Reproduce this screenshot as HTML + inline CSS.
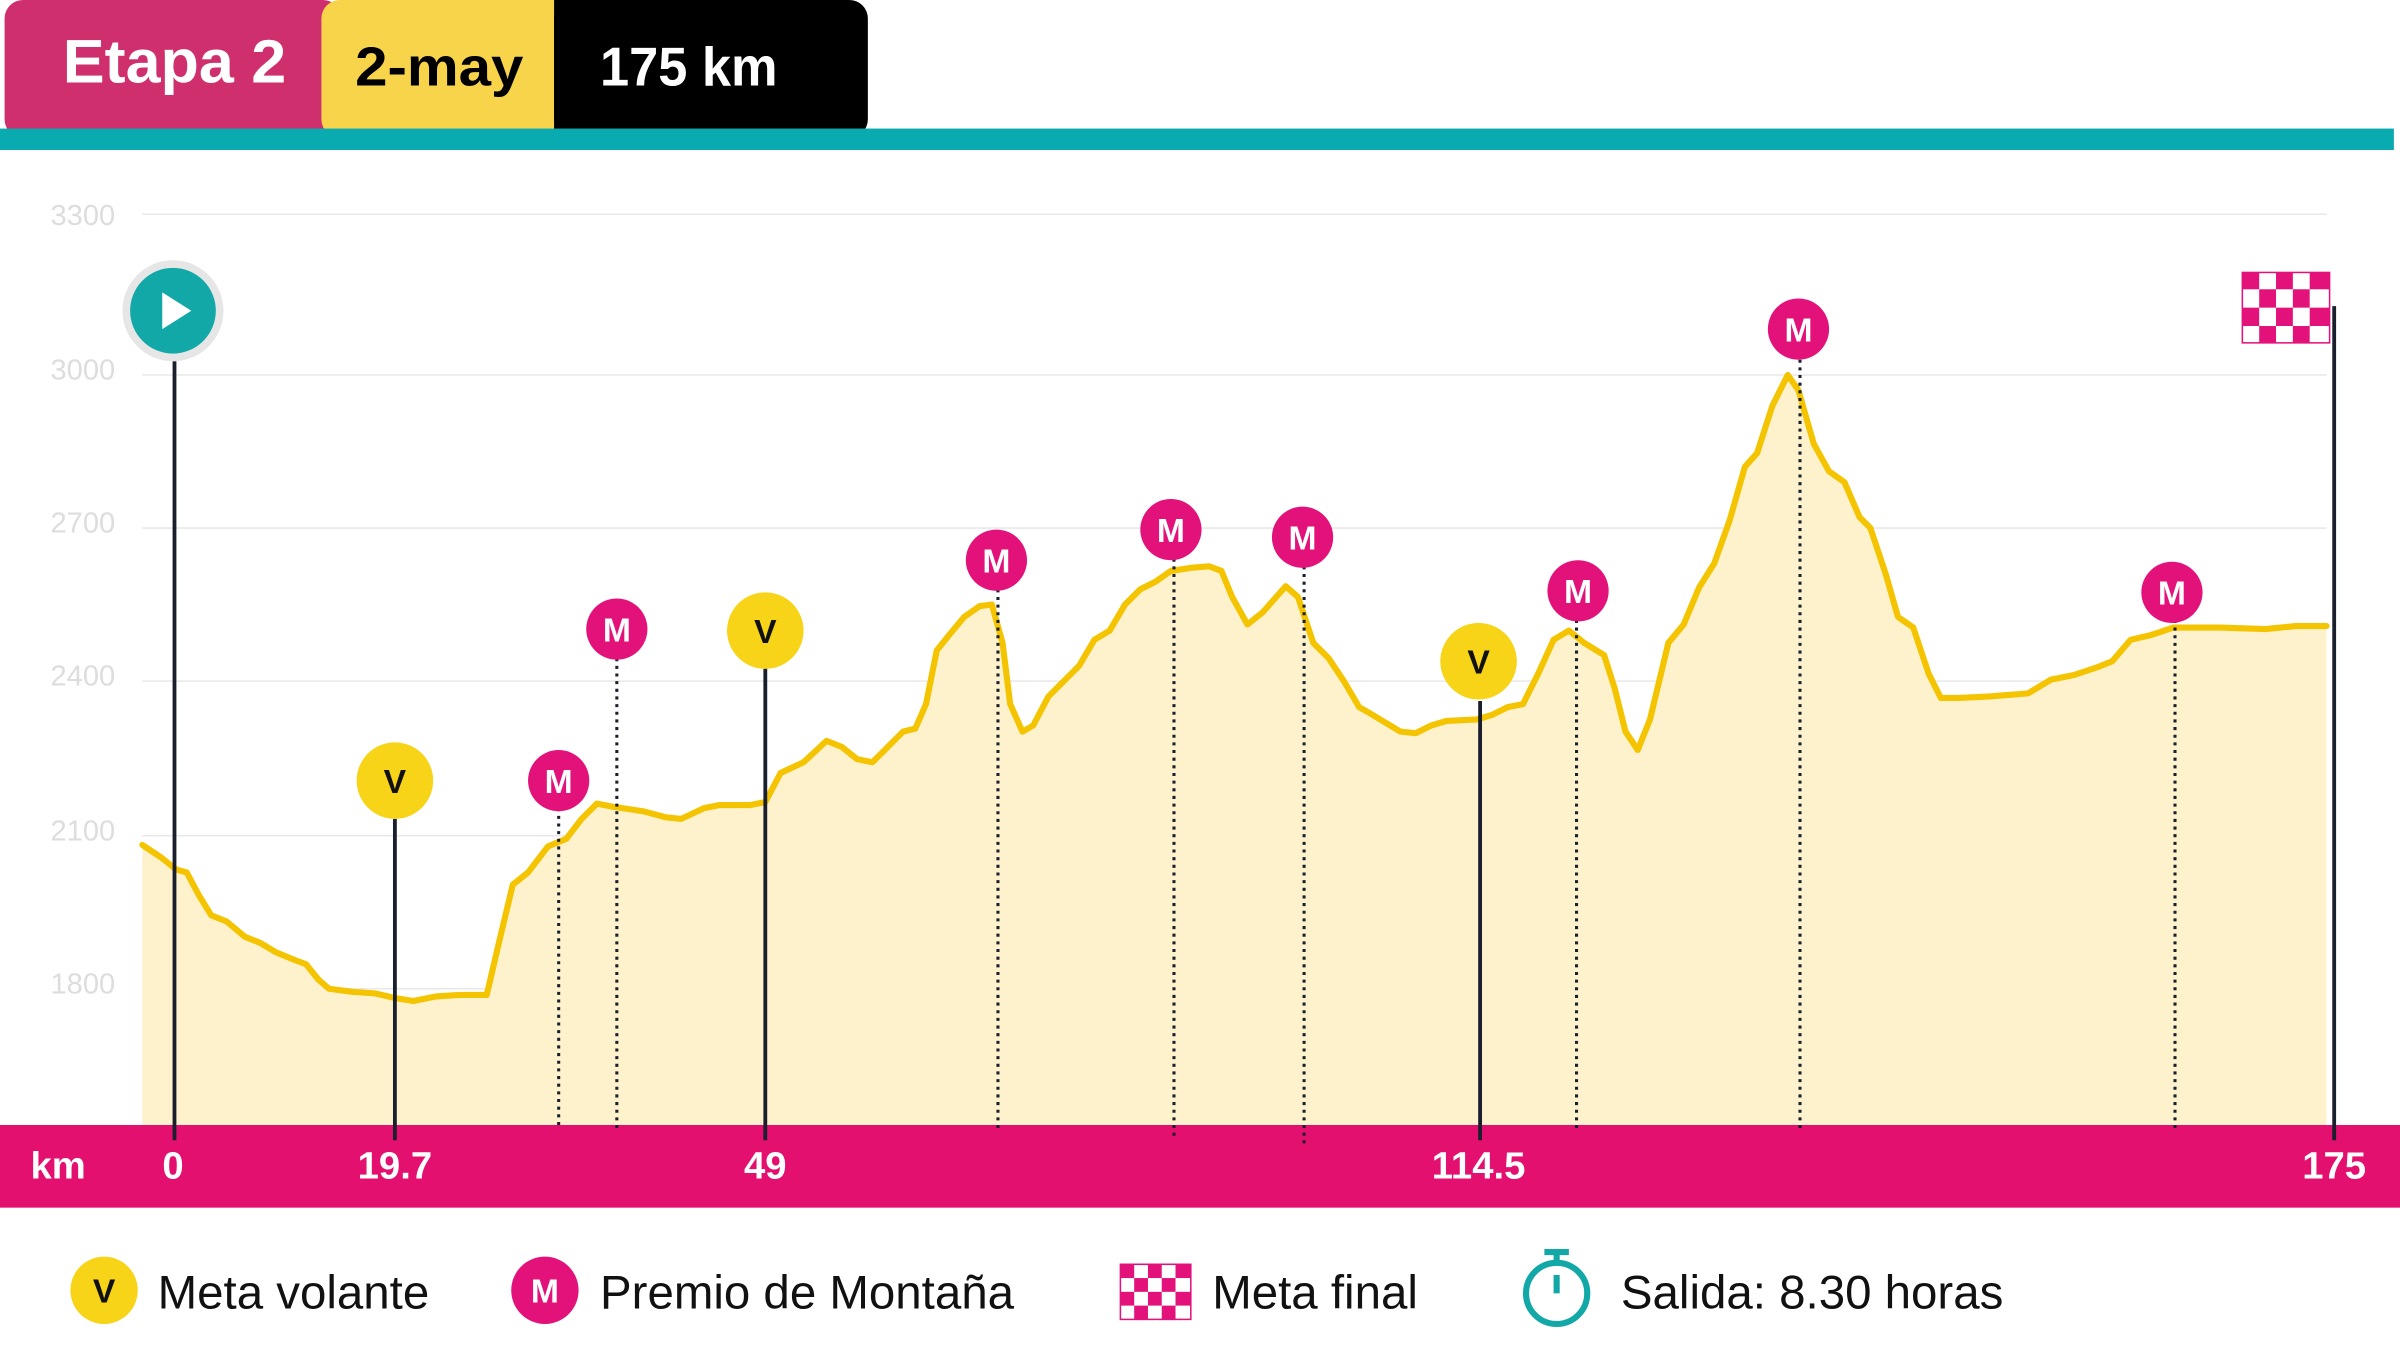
<!DOCTYPE html>
<html><head><meta charset="utf-8"><style>
html,body{margin:0;padding:0;background:#fff;}
svg{display:block;}
text{font-family:"Liberation Sans",sans-serif;}
</style></head><body>
<svg width="2400" height="1350" viewBox="0 0 1568 882" preserveAspectRatio="none" xmlns="http://www.w3.org/2000/svg">
<rect width="1568" height="882" fill="#fff"/>
<!-- header -->
<rect x="3" y="0" width="220" height="90" rx="12" fill="#cf2f6d"/>
<rect x="210" y="0" width="165" height="90" rx="12" fill="#f7d44a"/>
<rect x="362" y="0" width="205" height="90" rx="12" fill="#000"/>
<rect x="362" y="0" width="20" height="90" fill="#000"/>
<text x="114" y="54" text-anchor="middle" font-size="40" font-weight="bold" fill="#fff" textLength="146" lengthAdjust="spacingAndGlyphs">Etapa 2</text>
<text x="287" y="56" text-anchor="middle" font-size="36" font-weight="bold" fill="#000" textLength="110" lengthAdjust="spacingAndGlyphs">2-may</text>
<text x="450" y="56" text-anchor="middle" font-size="36" font-weight="bold" fill="#fff" textLength="116" lengthAdjust="spacingAndGlyphs">175 km</text>
<rect x="0" y="84" width="1564" height="14" fill="#0aabb0"/>
<!-- grid -->
<g stroke="#e8e8e8" stroke-width="1">
<line x1="93" y1="140" x2="1520" y2="140"/><line x1="93" y1="245" x2="1520" y2="245"/>
<line x1="93" y1="345" x2="1520" y2="345"/><line x1="93" y1="445" x2="1520" y2="445"/>
<line x1="93" y1="546" x2="1520" y2="546"/><line x1="93" y1="646" x2="1520" y2="646"/>
</g>
<g font-size="19" fill="#ddd">
<text x="33" y="147">3300</text><text x="33" y="248">3000</text><text x="33" y="348">2700</text>
<text x="33" y="448">2400</text><text x="33" y="549">2100</text><text x="33" y="649">1800</text>
</g>
<!-- profile -->
<polygon fill="#fdf2cc" points="93,735 93,552 105,560 115,568 122,570 130,585 138,598 148,602 160,612 170,616 180,622 192,627 200,630 208,640 215,646 230,648 245,649 258,652 270,654 285,651 300,650 318,650 325,620 335,578 345,570 358,553 370,548 380,535 390,525 400,527 420,530 435,534 445,535 460,528 470,526 490,526 500,524 510,505 525,498 540,484 550,488 560,496 570,498 580,488 590,478 598,476 605,460 612,425 620,415 630,403 640,396 648,395 655,420 660,460 668,478 675,474 685,455 695,445 705,435 715,418 725,412 735,395 745,385 755,380 765,373 778,371 790,370 798,373 805,390 815,408 825,400 840,383 848,390 858,420 868,430 878,445 888,462 895,466 905,472 915,478 925,479 935,474 945,471 965,470 975,467 985,462 995,460 1005,440 1015,418 1025,412 1035,420 1048,428 1055,450 1062,478 1070,490 1078,470 1090,420 1100,408 1110,384 1120,368 1130,340 1140,305 1148,296 1158,265 1168,245 1175,255 1185,290 1195,308 1205,315 1215,338 1222,345 1232,375 1240,403 1250,410 1260,440 1268,456 1280,456 1300,455 1325,453 1340,444 1355,441 1370,436 1380,432 1392,418 1405,415 1420,410 1450,410 1480,411 1500,409 1520,409 1520,735"/>
<polyline fill="none" stroke="#f5c400" stroke-width="4" stroke-linejoin="round" stroke-linecap="round" points="93,552 105,560 115,568 122,570 130,585 138,598 148,602 160,612 170,616 180,622 192,627 200,630 208,640 215,646 230,648 245,649 258,652 270,654 285,651 300,650 318,650 325,620 335,578 345,570 358,553 370,548 380,535 390,525 400,527 420,530 435,534 445,535 460,528 470,526 490,526 500,524 510,505 525,498 540,484 550,488 560,496 570,498 580,488 590,478 598,476 605,460 612,425 620,415 630,403 640,396 648,395 655,420 660,460 668,478 675,474 685,455 695,445 705,435 715,418 725,412 735,395 745,385 755,380 765,373 778,371 790,370 798,373 805,390 815,408 825,400 840,383 848,390 858,420 868,430 878,445 888,462 895,466 905,472 915,478 925,479 935,474 945,471 965,470 975,467 985,462 995,460 1005,440 1015,418 1025,412 1035,420 1048,428 1055,450 1062,478 1070,490 1078,470 1090,420 1100,408 1110,384 1120,368 1130,340 1140,305 1148,296 1158,265 1168,245 1175,255 1185,290 1195,308 1205,315 1215,338 1222,345 1232,375 1240,403 1250,410 1260,440 1268,456 1280,456 1300,455 1325,453 1340,444 1355,441 1370,436 1380,432 1392,418 1405,415 1420,410 1450,410 1480,411 1500,409 1520,409"/>
<!-- band -->
<rect x="0" y="735" width="1568" height="54" fill="#e3106f"/>
<!-- solid lines -->
<g stroke="#1a1f2e" stroke-width="2.5">
<line x1="114" y1="236" x2="114" y2="745"/><line x1="258" y1="535" x2="258" y2="745"/>
<line x1="500" y1="435" x2="500" y2="745"/><line x1="967" y1="458" x2="967" y2="745"/>
<line x1="1525" y1="200" x2="1525" y2="745"/>
</g>
<g stroke="#1a1f2e" stroke-width="2" stroke-dasharray="2,3">
<line x1="365" y1="528" x2="365" y2="738"/><line x1="403" y1="430" x2="403" y2="738"/>
<line x1="652" y1="385" x2="652" y2="740"/><line x1="767" y1="365" x2="767" y2="745"/>
<line x1="852" y1="370" x2="852" y2="750"/><line x1="1030" y1="405" x2="1030" y2="738"/>
<line x1="1176" y1="235" x2="1176" y2="740"/><line x1="1421" y1="405" x2="1421" y2="740"/>
</g>
<!-- markers -->
<g font-size="22" font-weight="bold" text-anchor="middle">
<g fill="#f7d417">
<circle cx="258" cy="510" r="25"/><circle cx="500" cy="412" r="25"/><circle cx="966" cy="432" r="25"/>
</g>
<g fill="#111"><text x="258" y="518">V</text><text x="500" y="420">V</text><text x="966" y="440">V</text></g>
<g fill="#e2127a">
<circle cx="365" cy="510" r="20"/><circle cx="403" cy="411" r="20"/><circle cx="651" cy="366" r="20"/>
<circle cx="765" cy="346" r="20"/><circle cx="851" cy="351" r="20"/><circle cx="1031" cy="386" r="20"/>
<circle cx="1175" cy="215" r="20"/><circle cx="1419" cy="387" r="20"/>
</g>
<g fill="#fff">
<text x="365" y="518">M</text><text x="403" y="419">M</text><text x="651" y="374">M</text>
<text x="765" y="354">M</text><text x="851" y="359">M</text><text x="1031" y="394">M</text>
<text x="1175" y="223">M</text><text x="1419" y="395">M</text>
</g>
</g>
<!-- start -->
<circle cx="113" cy="203" r="33" fill="#e6e6e6"/>
<circle cx="113" cy="203" r="28" fill="#12a8a8"/>
<polygon points="106,191 106,215 125,203" fill="#fff"/>
<!-- flag -->
<g transform="translate(1465,178)">
<rect x="0" y="0" width="57" height="46" fill="#fff" stroke="#e2127a" stroke-width="1"/>
<g fill="#e2127a">
<rect x="0" y="0" width="11" height="11"/><rect x="22" y="0" width="11" height="11"/><rect x="44" y="0" width="13" height="11"/>
<rect x="11" y="11" width="11" height="12"/><rect x="33" y="11" width="11" height="12"/>
<rect x="0" y="23" width="11" height="12"/><rect x="22" y="23" width="11" height="12"/><rect x="44" y="23" width="13" height="12"/>
<rect x="11" y="35" width="11" height="11"/><rect x="33" y="35" width="11" height="11"/>
</g></g>
<!-- band labels -->
<g font-size="25" font-weight="bold" fill="#fff" text-anchor="middle">
<text x="38" y="770">km</text><text x="113" y="770">0</text><text x="258" y="770">19.7</text>
<text x="500" y="770">49</text><text x="966" y="770">114.5</text><text x="1525" y="770">175</text>
</g>
<!-- legend -->
<circle cx="68" cy="843" r="22" fill="#f7d417"/>
<text x="68" y="851" font-size="22" font-weight="bold" text-anchor="middle" fill="#111">V</text>
<text x="103" y="855" font-size="31" fill="#111">Meta volante</text>
<circle cx="356" cy="843" r="22" fill="#e2127a"/>
<text x="356" y="851" font-size="22" font-weight="bold" text-anchor="middle" fill="#fff">M</text>
<text x="392" y="855" font-size="31" fill="#111">Premio de Montaña</text>
<g transform="translate(732,826)">
<rect x="0" y="0" width="46" height="36" fill="#fff" stroke="#e2127a"/>
<g fill="#e2127a"><rect x="0" y="0" width="9" height="9"/><rect x="18" y="0" width="9" height="9"/><rect x="36" y="0" width="10" height="9"/>
<rect x="9" y="9" width="9" height="9"/><rect x="27" y="9" width="9" height="9"/>
<rect x="0" y="18" width="9" height="9"/><rect x="18" y="18" width="9" height="9"/><rect x="36" y="18" width="10" height="9"/>
<rect x="9" y="27" width="9" height="9"/><rect x="27" y="27" width="9" height="9"/></g></g>
<text x="792" y="855" font-size="31" fill="#111">Meta final</text>
<g stroke="#12a8a8" stroke-width="4" fill="none">
<circle cx="1017" cy="845" r="20"/><line x1="1017" y1="845" x2="1017" y2="833"/>
<line x1="1009" y1="818" x2="1025" y2="818"/><line x1="1017" y1="818" x2="1017" y2="825"/>
</g>
<text x="1059" y="855" font-size="31" fill="#111">Salida: 8.30 horas</text>
</svg>
</body></html>
